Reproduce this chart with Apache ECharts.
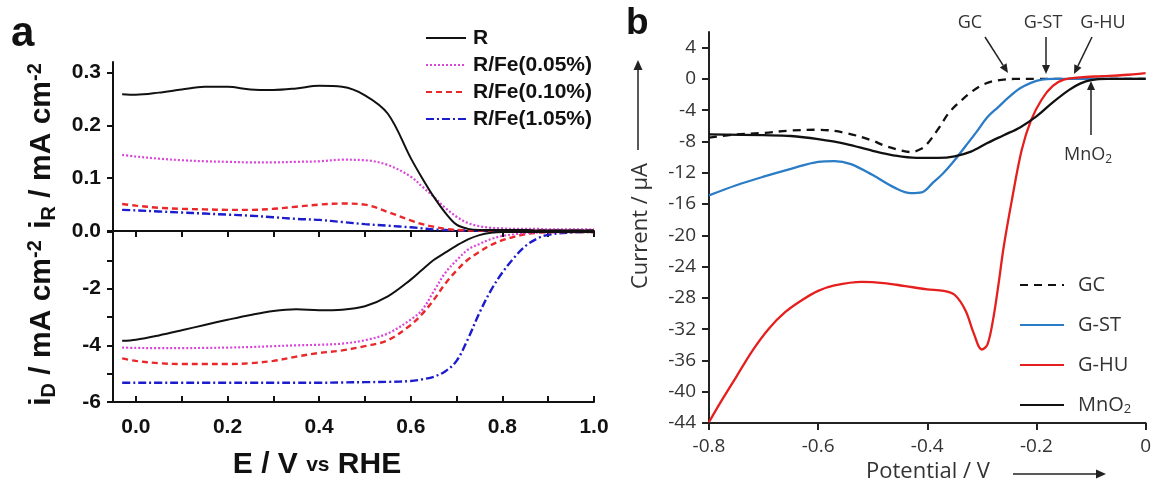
<!DOCTYPE html>
<html><head><meta charset="utf-8">
<script src="https://cdn.jsdelivr.net/npm/echarts@6/dist/echarts.min.js"></script>
<style>html,body{margin:0;padding:0;background:#fff}#c{width:1154px;height:489px}</style>
</head><body><div id="c"></div>
<script>
// ---------- Panel a data ----------
const aE = [-0.03,0,0.05,0.1,0.15,0.2,0.25,0.3,0.35,0.4,0.45,0.5,0.55,0.6,0.625,0.65,0.675,0.7,0.725,0.75,0.775,0.8,0.825,0.85,0.875,0.9,0.95,1.0];
const aNames = ['R','R/Fe(0.05%)','R/Fe(0.10%)','R/Fe(1.05%)'];
const iR_R    = [0.259,0.258,0.262,0.268,0.273,0.273,0.268,0.267,0.270,0.275,0.273,0.257,0.222,0.138,0.100,0.065,0.035,0.012,0.004,0.002,0.002,0.002,0.002,0.002,0.001,0.001,0.001,0.001];
const iR_005  = [0.144,0.141,0.137,0.134,0.132,0.131,0.130,0.130,0.131,0.132,0.135,0.134,0.125,0.103,0.084,0.065,0.044,0.027,0.015,0.009,0.006,0.005,0.004,0.004,0.004,0.003,0.003,0.003];
const iR_010  = [0.051,0.048,0.044,0.042,0.041,0.040,0.040,0.042,0.046,0.050,0.052,0.050,0.036,0.020,0.013,0.008,0.004,0.002,0.001,0.001,0.001,0.001,0.001,0.001,0.001,0.001,0.001,0.001];
const iR_105  = [0.040,0.039,0.037,0.035,0.033,0.031,0.029,0.026,0.023,0.021,0.017,0.013,0.010,0.007,0.005,0.003,0.002,0.001,0.001,0.001,0.001,0.001,0.001,0.001,0.001,0.001,0.001,0.001];
const iD_R    = [-3.84,-3.80,-3.65,-3.47,-3.28,-3.10,-2.93,-2.79,-2.73,-2.76,-2.74,-2.62,-2.27,-1.68,-1.33,-0.99,-0.73,-0.48,-0.26,-0.11,-0.03,0,0,0,0,0,0,0];
const iD_005  = [-4.08,-4.09,-4.10,-4.10,-4.09,-4.08,-4.06,-4.03,-4.00,-3.98,-3.94,-3.82,-3.58,-3.09,-2.75,-2.10,-1.45,-1.00,-0.62,-0.42,-0.25,-0.14,-0.08,-0.04,-0.02,-0.01,0,0];
const iD_010  = [-4.46,-4.55,-4.63,-4.66,-4.66,-4.66,-4.63,-4.55,-4.40,-4.27,-4.18,-4.03,-3.82,-3.28,-2.89,-2.40,-1.83,-1.36,-0.97,-0.70,-0.46,-0.29,-0.17,-0.08,-0.03,-0.01,0,0];
const iD_105  = [-5.32,-5.32,-5.32,-5.32,-5.32,-5.32,-5.32,-5.32,-5.32,-5.32,-5.31,-5.30,-5.29,-5.26,-5.20,-5.11,-4.92,-4.55,-3.77,-2.85,-2.06,-1.43,-0.92,-0.50,-0.24,-0.10,-0.02,0];
const aXLabels = [0,0.2,0.4,0.6,0.8,1.0];
const aXTicks = [0,0.1,0.2,0.3,0.4,0.5,0.6,0.7,0.8,0.9,1.0];
const aTopYLabels = [0,0.1,0.2,0.3];
const aBotYLabels = [-6,-4,-2];
const aBotYTicks = [-6,-5,-4,-3,-2,-1,0];

// ---------- Panel b data ----------
const bNames = ['GC','G-ST','G-HU','MnO2'];
const gcE = [-0.80,-0.75,-0.70,-0.65,-0.60,-0.55,-0.50,-0.48,-0.45,-0.43,-0.41,-0.40,-0.38,-0.36,-0.34,-0.32,-0.30,-0.28,-0.26,-0.24,-0.20,-0.10,0];
const gcI = [-7.5,-7.1,-6.9,-6.6,-6.5,-6.9,-7.9,-8.5,-9.1,-9.35,-8.9,-8.3,-6.4,-4.3,-2.9,-1.7,-0.8,-0.3,-0.1,0,0,0,0];
const stE = [-0.80,-0.75,-0.70,-0.65,-0.60,-0.57,-0.54,-0.50,-0.46,-0.43,-0.41,-0.39,-0.37,-0.35,-0.33,-0.31,-0.29,-0.27,-0.25,-0.23,-0.21,-0.19,-0.17,0];
const stI = [-14.9,-13.6,-12.5,-11.5,-10.6,-10.5,-10.9,-12.3,-13.9,-14.6,-14.5,-13.3,-12.0,-10.4,-8.6,-6.8,-4.9,-3.6,-2.3,-1.2,-0.5,-0.1,0,0];
const huE = [-0.80,-0.78,-0.75,-0.72,-0.69,-0.66,-0.63,-0.60,-0.57,-0.52,-0.48,-0.44,-0.40,-0.37,-0.35,-0.33,-0.315,-0.30,-0.29,-0.28,-0.27,-0.26,-0.245,-0.227,-0.21,-0.19,-0.17,-0.15,-0.12,-0.08,-0.04,0];
const huI = [-43.9,-41.5,-38.1,-34.7,-31.9,-29.8,-28.3,-27.1,-26.4,-25.95,-26.1,-26.5,-26.9,-27.1,-27.6,-29.6,-32.5,-34.6,-34.0,-31.0,-26.5,-21.5,-15.5,-9.1,-5.3,-2.6,-0.9,-0.1,0.2,0.35,0.5,0.75];
const mnE = [-0.80,-0.70,-0.65,-0.60,-0.55,-0.50,-0.46,-0.42,-0.38,-0.35,-0.32,-0.29,-0.26,-0.23,-0.20,-0.17,-0.14,-0.12,-0.10,-0.07,0];
const mnI = [-7.1,-7.2,-7.3,-7.7,-8.3,-9.2,-9.8,-10.1,-10.1,-9.9,-9.3,-8.2,-7.2,-6.2,-4.8,-3.0,-1.4,-0.6,-0.15,0,0];
const bXLabels = [-0.8,-0.6,-0.4,-0.2,0];
const bYLabels = [-44,-40,-36,-32,-28,-24,-20,-16,-12,-8,-4,0,4];

const zip = (xs, ys) => xs.map((x, i) => [x, ys[i]]);

const FA = '"Liberation Sans", Arial, sans-serif';
const FB = '"Open Sans", sans-serif';
const aColors = ['#111111','#d946d9','#e8282a','#1c1ccc'];
const aTypes = ['solid',[2,2],[6,4],[8,3,2,3]];
const aWidths = [2,2.2,2.4,2.4];

const series = [];
const topSets = [iR_R, iR_005, iR_010, iR_105];
const botSets = [iD_R, iD_005, iD_010, iD_105];
aNames.forEach((n, k) => {
  [[topSets[k],0],[botSets[k],1]].forEach(([vals, gi]) => {
    series.push({
      name: n, type: 'line', xAxisIndex: gi, yAxisIndex: gi,
      data: zip(aE, vals), symbol: 'none', smooth: 0.35,
      lineStyle: {color: aColors[k], width: aWidths[k], type: aTypes[k]},
      itemStyle: {color: aColors[k]}, z: 5 - k
    });
  });
});
const bSets = [[gcE,gcI,'#111111',[8,6]],[stE,stI,'#2b7cc6','solid'],[huE,huI,'#e51e1e','solid'],[mnE,mnI,'#111111','solid']];
bNames.forEach((n, k) => {
  const [xs, ys, c, t] = bSets[k];
  series.push({
    name: n, type: 'line', xAxisIndex: 2, yAxisIndex: 2,
    data: zip(xs, ys), symbol: 'none', smooth: 0.35,
    lineStyle: {color: c, width: 2.3, type: t}, itemStyle: {color: c}
  });
});

function arrow(x1, y1, x2, y2, L, W, lw) {
  L = L || 9; W = W || 4; lw = lw || 1.5;
  const a = Math.atan2(y2 - y1, x2 - x1), c = Math.cos(a), s = Math.sin(a);
  const bx = x2 - L * c, by = y2 - L * s;
  return [
    {type:'line', shape:{x1:x1, y1:y1, x2:bx, y2:by}, style:{stroke:'#222', lineWidth:lw}},
    {type:'polygon', shape:{points:[[x2,y2],[bx - W*s, by + W*c],[bx + W*s, by - W*c]]}, style:{fill:'#222'}}
  ];
}

const richA = {
  t: {fontFamily: FA, fontWeight: 'bold', fontSize: 30, fill: '#111', lineHeight: 34, verticalAlign: 'middle'},
  s: {fontFamily: FA, fontWeight: 'bold', fontSize: 20, fill: '#111', lineHeight: 20, verticalAlign: 'bottom'},
  p: {fontFamily: FA, fontWeight: 'bold', fontSize: 20, fill: '#111', lineHeight: 20, verticalAlign: 'top'},
  v: {fontFamily: FA, fontWeight: 'bold', fontSize: 21, fill: '#111', lineHeight: 24, verticalAlign: 'middle'}
};
const richB = {
  n: {fontFamily: FB, fontSize: 18, fill: '#333', lineHeight: 22, verticalAlign: 'middle'},
  sub: {fontFamily: FB, fontSize: 12, fill: '#333', lineHeight: 16, verticalAlign: 'bottom'}
};

const graphic = [
  {type:'text', x:11, y:34, style:{text:'a', font:'bold 42px ' + FA, fill:'#111', verticalAlign:'middle'}},
  {type:'text', x:626, y:24, style:{text:'b', font:'bold 37px ' + FA, fill:'#111', verticalAlign:'middle'}},
  {type:'text', x:42, y:146, rotation:Math.PI/2, style:{text:'{t|i}{s|R}{t| / mA cm}{p|-2}', rich:richA, align:'center', verticalAlign:'middle'}},
  {type:'text', x:42, y:323, rotation:Math.PI/2, style:{text:'{t|i}{s|D}{t| / mA cm}{p|-2}', rich:richA, align:'center', verticalAlign:'middle'}},
  {type:'text', x:317, y:465, style:{text:'{t|E / V }{v|vs}{t| RHE}', rich:richA, align:'center', verticalAlign:'middle'}},
  {type:'text', x:641, y:226, rotation:Math.PI/2, style:{text:'Current / µA', font:'22px ' + FB, fill:'#333', align:'center', verticalAlign:'middle'}},
  {type:'text', x:928, y:472, style:{text:'Potential / V', font:'22px ' + FB, fill:'#333', align:'center', verticalAlign:'middle'}},
  {type:'text', x:970, y:23, style:{text:'GC', font:'18px ' + FB, fill:'#333', align:'center', verticalAlign:'middle'}},
  {type:'text', x:1043, y:23, style:{text:'G-ST', font:'18px ' + FB, fill:'#333', align:'center', verticalAlign:'middle'}},
  {type:'text', x:1103, y:23, style:{text:'G-HU', font:'18px ' + FB, fill:'#333', align:'center', verticalAlign:'middle'}},
  {type:'text', x:1088, y:155, style:{text:'{n|MnO}{sub|2}', rich:richB, align:'center', verticalAlign:'middle'}}
].concat(
  arrow(638, 150, 638, 60, 10, 4.5, 1.5),
  arrow(1013, 474, 1106, 474, 10, 4.5, 1.5),
  arrow(985, 37, 1008, 73, 9, 4, 1.5),
  arrow(1046, 37, 1046, 74, 9, 4, 1.5),
  arrow(1092, 37, 1074, 74, 9, 4, 1.5),
  arrow(1091, 135, 1091, 81, 9, 4, 1.5)
);

const axLine = {show: true, onZero: false, lineStyle: {color: '#111', width: 2}};
const option = {
  animation: false,
  backgroundColor: '#ffffff',
  grid: [
    {left: 113, top: 62, width: 481, height: 169},
    {left: 113, top: 232, width: 481, height: 170},
    {left: 709, top: 32, width: 439, height: 391}
  ],
  xAxis: [
    {type: 'value', gridIndex: 0, min: -0.05, max: 1.0, position: 'bottom', axisLine: axLine,
     axisTick: {show: true, inside: false, length: 6, customValues: aXTicks, lineStyle: {color: '#111', width: 2}},
     axisLabel: {show: false}, splitLine: {show: false}},
    {type: 'value', gridIndex: 1, min: -0.05, max: 1.0, position: 'bottom', axisLine: axLine,
     axisTick: {show: true, inside: true, length: 6, customValues: aXTicks, lineStyle: {color: '#111', width: 2}},
     axisLabel: {customValues: aXLabels, formatter: v => v.toFixed(1), margin: 15, fontFamily: FA, fontWeight: 'bold', fontSize: 21, color: '#111'},
     splitLine: {show: false}},
    {type: 'value', gridIndex: 2, min: -0.8, max: 0, interval: 0.2, position: 'bottom',
     axisLine: {show: true, onZero: false, lineStyle: {color: '#222', width: 2}},
     axisTick: {show: true, inside: false, length: 7, customValues: bXLabels, lineStyle: {color: '#222', width: 2}},
     axisLabel: {customValues: bXLabels, formatter: v => (v === 0 ? '0' : v.toFixed(1)), margin: 14, fontFamily: FB, fontSize: 19, color: '#333'},
     splitLine: {show: false}}
  ],
  yAxis: [
    {type: 'value', gridIndex: 0, min: 0, max: 0.32, axisLine: axLine,
     axisTick: {show: true, length: 6, customValues: aTopYLabels, lineStyle: {color: '#111', width: 2}},
     axisLabel: {customValues: aTopYLabels, formatter: v => v.toFixed(1), margin: 12, fontFamily: FA, fontWeight: 'bold', fontSize: 21, color: '#111'},
     splitLine: {show: false}},
    {type: 'value', gridIndex: 1, min: -6, max: 0, axisLine: axLine,
     axisTick: {show: true, length: 6, customValues: aBotYTicks, lineStyle: {color: '#111', width: 2}},
     axisLabel: {customValues: aBotYLabels, formatter: v => String(v), margin: 12, fontFamily: FA, fontWeight: 'bold', fontSize: 21, color: '#111'},
     splitLine: {show: false}},
    {type: 'value', gridIndex: 2, min: -44, max: 6, axisLine: {show: true, onZero: false, lineStyle: {color: '#222', width: 2}},
     axisTick: {show: true, length: 7, customValues: bYLabels, lineStyle: {color: '#222', width: 2}},
     axisLabel: {customValues: bYLabels, formatter: v => String(v), margin: 13, fontFamily: FB, fontSize: 19, color: '#333'},
     splitLine: {show: false}}
  ],
  legend: [
    {data: aNames, orient: 'vertical', left: 425, top: 27, padding: 0, itemWidth: 40, itemHeight: 14, itemGap: 5,
     itemStyle: {opacity: 0},
     textStyle: {fontFamily: FA, fontWeight: 'bold', fontSize: 21, color: '#111', lineHeight: 22, padding: [0,0,0,2]},
     selectedMode: false},
    {data: bNames, orient: 'vertical', left: 1019, top: 274, padding: 0, itemWidth: 44, itemHeight: 14, itemGap: 18,
     itemStyle: {opacity: 0},
     formatter: n => (n === 'MnO2' ? '{n|MnO}{sub|2}' : n),
     textStyle: {fontFamily: FB, fontSize: 20, color: '#333', lineHeight: 22, padding: [0,0,0,9],
       rich: {n: {fontFamily: FB, fontSize: 20, color: '#333', lineHeight: 22}, sub: {fontFamily: FB, fontSize: 13, color: '#333', lineHeight: 14, verticalAlign: 'bottom'}}},
     selectedMode: false}
  ],
  graphic: graphic,
  series: series
};
const chart = echarts.init(document.getElementById('c'), null, {renderer: 'canvas'});
chart.setOption(option);
</script></body></html>
